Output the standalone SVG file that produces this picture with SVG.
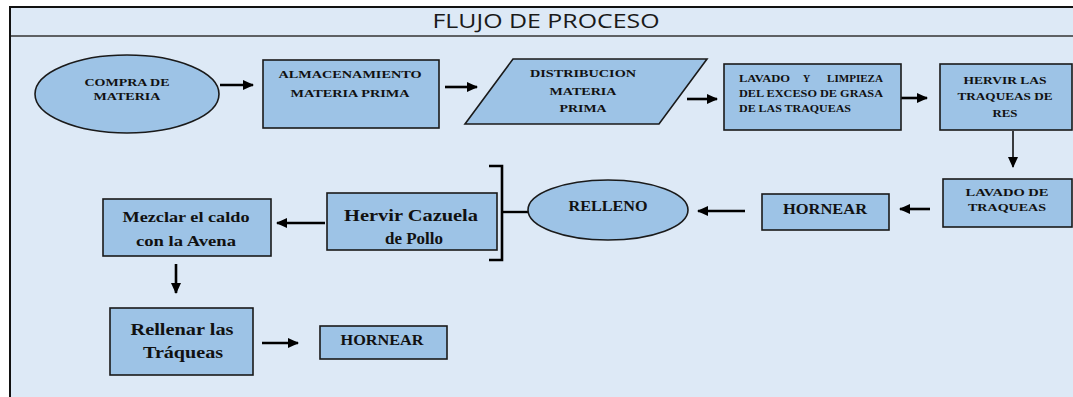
<svg xmlns="http://www.w3.org/2000/svg" width="1073" height="397" viewBox="0 0 1073 397">
<defs>
<marker id="ah" markerUnits="userSpaceOnUse" markerWidth="11" markerHeight="10" refX="10" refY="5" orient="auto">
<path d="M0,0 L11,5 L0,10 z" fill="#000"/>
</marker>
<style>
.nf{fill:#9dc3e6;stroke:#1a1a1a;stroke-width:1.6}
.t{font-family:"Liberation Serif","Times New Roman",serif;font-weight:bold;fill:#111;text-anchor:middle}
.s{font-size:11px}
.x{font-size:10px;text-anchor:start}
.m{font-size:15px}
.b{font-size:17px}
.c{stroke:#000;stroke-width:2.6;fill:none;marker-end:url(#ah)}
</style>
</defs>
<rect x="0" y="0" width="1073" height="397" fill="#ffffff"/>
<rect x="10" y="7" width="1063" height="390" fill="#dde9f6"/>
<line x1="10" y1="7" x2="1073" y2="7" stroke="#111" stroke-width="2"/>
<line x1="10" y1="36" x2="1073" y2="36" stroke="#333" stroke-width="1.5"/>
<line x1="10" y1="6" x2="10" y2="397" stroke="#111" stroke-width="2"/>
<text x="546" y="28" font-family="'Open Sans','Liberation Sans',sans-serif" font-size="20" fill="#1a1a1a" text-anchor="middle" textLength="227" lengthAdjust="spacingAndGlyphs">FLUJO DE PROCESO</text>

<g id="connectors">
<line class="c" x1="220" y1="85" x2="253" y2="85"/>
<line class="c" x1="445" y1="87" x2="477" y2="87"/>
<line class="c" x1="687" y1="99" x2="717" y2="99"/>
<line class="c" x1="901" y1="98" x2="927" y2="98"/>
<line class="c" x1="1013" y1="131" x2="1013" y2="167" style="stroke-width:1.5"/>
<line class="c" x1="930" y1="209" x2="900" y2="209"/>
<line class="c" x1="745" y1="211" x2="698" y2="211"/>
<line class="c" x1="325" y1="223" x2="277" y2="223"/>
<line class="c" x1="176" y1="264" x2="176" y2="293"/>
<line class="c" x1="262" y1="343" x2="298" y2="343"/>
<path d="M489,166 H502 V260 H489" stroke="#000" stroke-width="2.6" fill="none"/>
<line x1="502" y1="212" x2="529" y2="212" stroke="#000" stroke-width="2.4"/>
</g>

<g id="n1">
<ellipse class="nf" cx="127" cy="94" rx="92" ry="39"/>
<text class="t s" x="127" y="86" textLength="85" lengthAdjust="spacingAndGlyphs">COMPRA DE</text>
<text class="t s" x="127" y="100" textLength="67" lengthAdjust="spacingAndGlyphs">MATERIA</text>
</g>
<g id="n2">
<rect class="nf" x="263" y="60" width="176" height="68"/>
<text class="t s" x="350" y="78" textLength="143" lengthAdjust="spacingAndGlyphs">ALMACENAMIENTO</text>
<text class="t s" x="350" y="97" textLength="119" lengthAdjust="spacingAndGlyphs">MATERIA PRIMA</text>
</g>
<g id="n3">
<polygon class="nf" points="513,59 707,59 659,124 465,124"/>
<text class="t s" x="583" y="77" textLength="106" lengthAdjust="spacingAndGlyphs">DISTRIBUCION</text>
<text class="t s" x="583" y="95" textLength="67" lengthAdjust="spacingAndGlyphs">MATERIA</text>
<text class="t s" x="583" y="112" textLength="47" lengthAdjust="spacingAndGlyphs">PRIMA</text>
</g>
<g id="n4">
<rect class="nf" x="724" y="64" width="177" height="66"/>
<text class="t x" y="82"><tspan x="739" textLength="51" lengthAdjust="spacingAndGlyphs">LAVADO</tspan><tspan x="803">Y</tspan><tspan x="827" textLength="56" lengthAdjust="spacingAndGlyphs">LIMPIEZA</tspan></text>
<text class="t x" x="739" y="97" textLength="144" lengthAdjust="spacingAndGlyphs">DEL EXCESO DE GRASA</text>
<text class="t x" x="739" y="112" textLength="112" lengthAdjust="spacingAndGlyphs">DE LAS TRAQUEAS</text>
</g>
<g id="n5">
<rect class="nf" x="940" y="64" width="132" height="66"/>
<text class="t s" x="1005" y="84" textLength="83" lengthAdjust="spacingAndGlyphs">HERVIR LAS</text>
<text class="t s" x="1005" y="100" textLength="95" lengthAdjust="spacingAndGlyphs">TRAQUEAS DE</text>
<text class="t s" x="1005" y="117" textLength="25" lengthAdjust="spacingAndGlyphs">RES</text>
</g>
<g id="n6">
<rect class="nf" x="943" y="179" width="129" height="48"/>
<text class="t s" x="1007" y="196" textLength="83" lengthAdjust="spacingAndGlyphs">LAVADO DE</text>
<text class="t s" x="1007" y="211" textLength="78" lengthAdjust="spacingAndGlyphs">TRAQUEAS</text>
</g>
<g id="n7">
<rect class="nf" x="762" y="194" width="127" height="36"/>
<text class="t m" x="825" y="214" textLength="84" lengthAdjust="spacingAndGlyphs">HORNEAR</text>
</g>
<g id="n8">
<ellipse class="nf" cx="608" cy="210" rx="80" ry="30"/>
<text class="t m" x="608" y="211" textLength="79" lengthAdjust="spacingAndGlyphs">RELLENO</text>
</g>
<g id="n9">
<rect class="nf" x="327" y="193" width="170" height="57"/>
<text class="t b" x="411" y="221" textLength="134" lengthAdjust="spacingAndGlyphs">Hervir Cazuela</text>
<text class="t b" x="414" y="244" textLength="58" lengthAdjust="spacingAndGlyphs">de Pollo</text>
</g>
<g id="n10">
<rect class="nf" x="103" y="199" width="168" height="57"/>
<text class="t m" x="186" y="222" textLength="127" lengthAdjust="spacingAndGlyphs">Mezclar el caldo</text>
<text class="t m" x="186" y="246" textLength="100" lengthAdjust="spacingAndGlyphs">con la Avena</text>
</g>
<g id="n11">
<rect class="nf" x="110" y="308" width="143" height="67"/>
<text class="t b" x="182" y="335" textLength="103" lengthAdjust="spacingAndGlyphs">Rellenar las</text>
<text class="t b" x="183" y="358" textLength="80" lengthAdjust="spacingAndGlyphs">Tráqueas</text>
</g>
<g id="n12">
<rect class="nf" x="320" y="326" width="127" height="33"/>
<text class="t m" x="382" y="345" textLength="83" lengthAdjust="spacingAndGlyphs">HORNEAR</text>
</g>
</svg>
